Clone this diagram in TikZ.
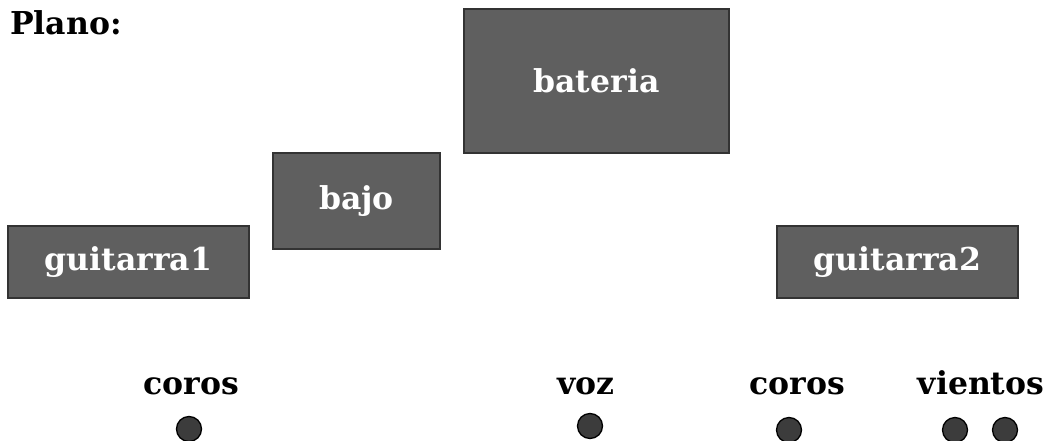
\documentclass[tikz,border=0pt]{standalone}
\usepackage{fontspec}
\setmainfont{DejaVu Serif}
\usetikzlibrary{positioning}
\definecolor{caja}{HTML}{5F5F5F}
\definecolor{borde}{HTML}{333333}
\definecolor{punto}{HTML}{3C3C3C}
\tikzset{
  caja/.style={draw=borde, line width=2pt, fill=caja, text=white,
    font=\fontsize{31.5}{32}\selectfont\bfseries, inner sep=0pt},
  etiqueta/.style={font=\fontsize{31.5}{32}\selectfont\bfseries, inner sep=0pt},
  micro/.style={circle, draw=black, line width=1.3pt, fill=punto,
    minimum size=25pt, inner sep=0pt}
}

\begin{document}
\begin{tikzpicture}[x=1pt,y=-1pt]
 \useasboundingbox (0,0) rectangle (1051,441);
 \node[etiqueta, anchor=base west] (plano) at (10,35) {Plano:}; %titulo
 % escenario
 \node[caja, minimum width=265pt, minimum height=144pt] (bateria) at (596.5,81) {bateria};
 \node[caja, minimum width=167pt, minimum height=96pt] (bajo) at (356.5,201) {bajo};
 \node[caja, minimum width=241pt, minimum height=72pt] (guitarra1) at (128.5,262) {guitarra1};
 \node[caja, minimum width=241pt, minimum height=72pt] (guitarra2) at (897.5,262) {guitarra2};
 % microfonos
 \node[micro] (coros1) at (189,429) {};
 \node[micro] (voz) at (590,426) {};
 \node[micro] (coros2) at (789,430) {};
 \node[micro] (vientos1) at (955,430) {};
 \node[micro] (vientos2) at (1005,430) {};
 \node[etiqueta, anchor=base] (tcoros1) at (191,394) {coros};
 \node[etiqueta, anchor=base] (tvoz) at (586,394) {voz};
 \node[etiqueta, anchor=base] (tcoros2) at (797,394) {coros};
 \node[etiqueta, anchor=base] (tvientos) at (981,394) {vientos};
\end{tikzpicture}
\end{document}
